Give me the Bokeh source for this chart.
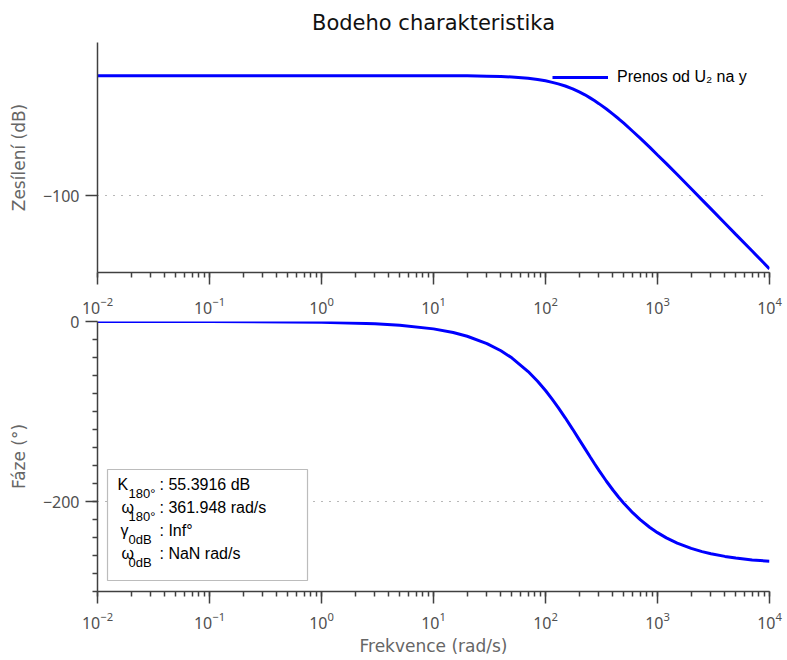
from bokeh.plotting import figure
from bokeh.layouts import column
from bokeh.models import (Range1d, FixedTicker, LogAxis, LogTicker, LogTickFormatter,
                          Legend, LegendItem, Label, BoxAnnotation, ColumnDataSource)
from bokeh.embed import file_html
from bokeh.resources import INLINE

# ---------------- data ----------------
TITLE = "Bodeho charakteristika"
GAIN_LABEL = "Zesílení (dB)"
PHASE_LABEL = "Fáze (°)"
X_LABEL = "Frekvence (rad/s)"
LEGEND_LABEL = "Prenos od U₂ na y"

freq = [0.01, 0.1, 1, 3, 5, 10, 15, 20, 30, 40, 50, 70, 85, 100, 115, 130, 150,
        175, 200, 225, 250, 275, 300, 350, 400, 450, 500, 600, 700, 850, 1000,
        1200, 1500, 2000, 2500, 3000, 4000, 5000, 7000, 10000]
gain_db = [-37.3, -37.3, -37.3, -37.3, -37.3, -37.3, -37.4, -37.4, -37.6, -37.8,
           -38.0, -38.7, -39.3, -40.0, -40.8, -41.6, -42.7, -44.2, -45.8, -47.3,
           -48.9, -50.4, -51.9, -54.7, -57.4, -59.8, -62.1, -66.3, -69.9, -74.6,
           -78.7, -83.2, -88.9, -96.3, -102.1, -106.8, -114.3, -120.1, -128.8, -138.1]
phase_deg = [0.0, -0.1, -0.8, -2.5, -4.1, -8.2, -12.3, -16.4, -24.5, -32.5,
             -40.4, -55.6, -66.4, -76.7, -86.5, -95.6, -107.0, -119.8, -131.2, -141.3,
             -150.3, -158.3, -165.4, -177.5, -187.2, -195.3, -201.9, -212.4, -220.1, -228.6,
             -234.6, -240.4, -246.2, -252.1, -255.7, -258.0, -261.0, -262.8, -264.9, -266.4]

gain_ticks = [-100]
phase_ticks = [-200, 0]
phase_minor = [-300, -280, -260, -240, -220, -200, -180, -160, -140, -120, -100,
               -80, -60, -40, -20]

# info box lines: (symbol, subscript, value)
info_lines = [("K", "180°", ": 55.3916 dB"),
              ("ω", "180°", ": 361.948 rad/s"),
              ("γ", "0dB", ": Inf°"),
              ("ω", "0dB", ": NaN rad/s")]

# ---------------- styling ----------------
AX_FONT = "DejaVu Sans"
TICK_FONT = "Noto Sans"
TXT_FONT = "Liberation Sans"
AX_COLOR = "#404040"
CURVE = "#0000ff"

src = ColumnDataSource(dict(w=freq, g=gain_db, ph=phase_deg))
x_range = Range1d(0.01, 10000)


def style_axis(ax):
    ax.axis_line_color = AX_COLOR
    ax.axis_line_width = 1.5
    ax.major_tick_line_color = AX_COLOR
    ax.major_tick_line_width = 1.5
    ax.minor_tick_line_color = AX_COLOR
    ax.minor_tick_line_width = 1.5
    ax.major_tick_in = 0
    ax.major_tick_out = 12
    ax.minor_tick_in = 0
    ax.minor_tick_out = 5
    ax.major_label_text_font = TICK_FONT
    ax.major_label_text_font_size = "16px"
    ax.major_label_text_color = "#505050"
    ax.axis_label_text_font = AX_FONT
    ax.axis_label_text_font_size = "17px"
    ax.axis_label_text_font_style = "normal"
    ax.axis_label_text_color = "#666666"


def style_grid(g, ticker):
    g.ticker = ticker
    g.grid_line_color = "#707070"
    g.grid_line_dash = "1 7"
    g.grid_line_width = 1


common = dict(x_axis_type="log", x_range=x_range, frame_width=672,
              min_border_left=97, min_border_right=18,
              output_backend="svg", toolbar_location=None)

# ---------------- top: gain ----------------
top = figure(y_range=Range1d(-140, -20), frame_height=230, min_border_top=42,
             min_border_bottom=14, title=TITLE, **common)
top.outline_line_color = None
top.title.align = "center"
top.title.text_font = AX_FONT
top.title.text_font_size = "21px"
top.title.text_font_style = "normal"
top.title.text_color = "#111111"
top.title.standoff = 15

tx = top.xaxis[0]
style_axis(tx)
tx.major_label_text_font_size = "1px"
tx.major_label_text_color = None
tx.major_label_standoff = 0
ty = top.yaxis[0]
style_axis(ty)
gt = FixedTicker(ticks=gain_ticks, minor_ticks=[])
ty.ticker = gt
ty.major_label_overrides = {-100: "−100"}
ty.axis_label = GAIN_LABEL
ty.major_label_standoff = 6
ty.axis_label_standoff = 11
top.xgrid.visible = False
style_grid(top.ygrid[0], gt)

r1 = top.line(x="w", y="g", source=src, line_color=CURVE, line_width=3)

leg = Legend(items=[LegendItem(label=LEGEND_LABEL, renderers=[r1])],
             location=(455, 186), padding=0, margin=0,
             border_line_color=None, background_fill_alpha=0,
             glyph_width=56, glyph_height=16, label_height=16, label_standoff=9,
             label_text_font=TXT_FONT, label_text_font_size="16px",
             label_text_color="black")
top.add_layout(leg)

# ---------------- bottom: phase ----------------
bot = figure(y_range=Range1d(-300, 0), frame_height=270, min_border_top=35,
             min_border_bottom=69, **common)
bot.outline_line_color = None

bx = bot.xaxis[0]
by = bot.yaxis[0]

above = LogAxis(ticker=LogTicker(), formatter=LogTickFormatter())
style_axis(above)
above.axis_line_color = None
above.major_tick_line_color = None
above.minor_tick_line_color = None
above.major_tick_out = 0
above.minor_tick_out = 0
above.major_label_standoff = 8
bot.add_layout(above, "above")

style_axis(bx)
bx.major_label_standoff = 8
bx.axis_label = X_LABEL
bx.axis_label_standoff = 4

style_axis(by)
pt = FixedTicker(ticks=phase_ticks, minor_ticks=phase_minor)
by.ticker = pt
by.major_label_overrides = {-200: "−200", 0: "0"}
by.axis_label = PHASE_LABEL
by.major_label_standoff = 6
by.axis_label_standoff = 11
bot.xgrid.visible = False
style_grid(bot.ygrid[0], pt)

bot.line(x="w", y="ph", source=src, line_color=CURVE, line_width=3)

# info box (screen units relative to the plot frame)
bot.add_layout(BoxAnnotation(left=10, right=210, bottom=11, top=122,
                             left_units="screen", right_units="screen",
                             bottom_units="screen", top_units="screen",
                             fill_color="white", fill_alpha=1.0,
                             line_color="#202020", line_width=1.2))
line_y = [107, 84, 61, 38]
sym_x = [20, 24, 23, 24]
for (sym, sub, val), y, sx in zip(info_lines, line_y, sym_x):
    bot.add_layout(Label(x=sx, y=y, x_units="screen", y_units="screen", text=sym,
                         text_font=TXT_FONT, text_font_size="16px",
                         text_baseline="middle", text_color="black"))
    bot.add_layout(Label(x=31, y=y - 9, x_units="screen", y_units="screen", text=sub,
                         text_font=TXT_FONT, text_font_size="13px",
                         text_baseline="middle", text_color="black"))
    bot.add_layout(Label(x=62, y=y, x_units="screen", y_units="screen", text=val,
                         text_font=TXT_FONT, text_font_size="16px",
                         text_baseline="middle", text_color="black"))

layout = column(top, bot, spacing=0)
open("out.html", "w").write(file_html(layout, INLINE))
